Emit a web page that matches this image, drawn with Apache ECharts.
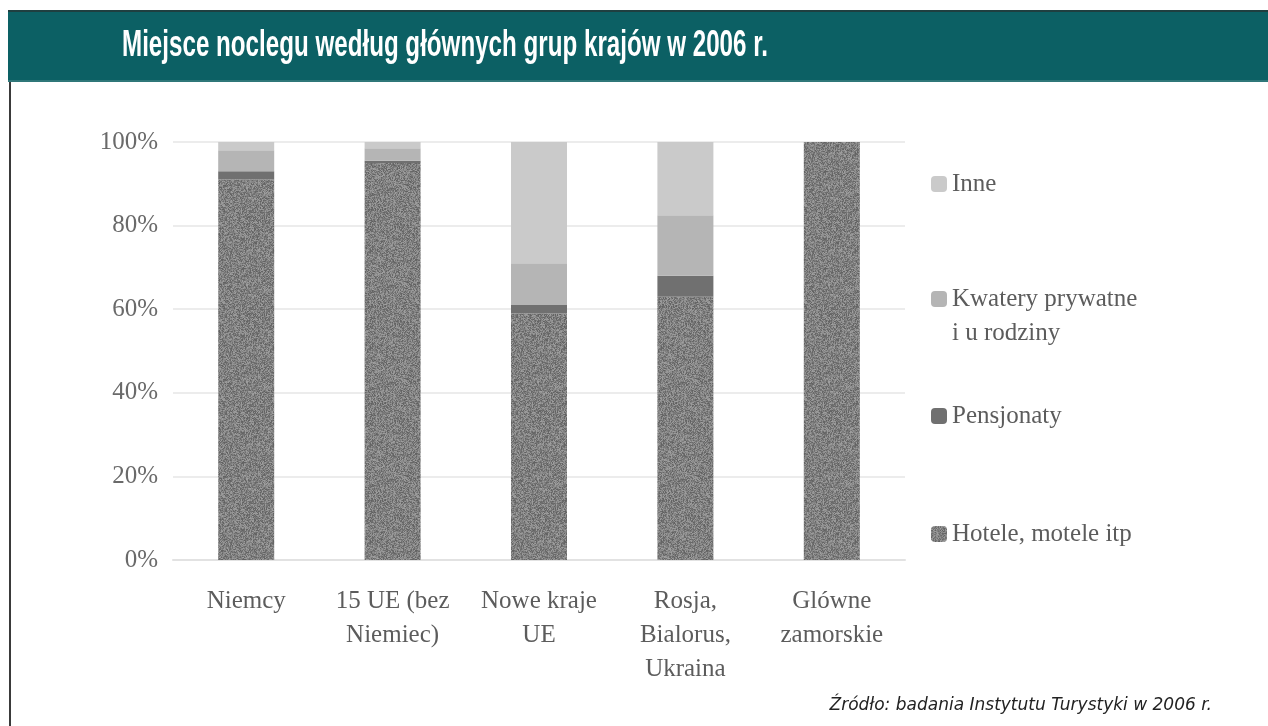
<!DOCTYPE html>
<html>
<head>
<meta charset="utf-8">
<script src="https://cdn.jsdelivr.net/npm/echarts@6/dist/echarts.min.js"></script>
<style>
  html, body { margin: 0; padding: 0; background: #fff; }
  #chart { width: 1268px; height: 726px; }
</style>
</head>
<body>
<div id="chart"></div>
<script>
// Shares of accommodation type by country group, 2006 (percent)
const categories = ['Niemcy', '15 UE (bez\nNiemiec)', 'Nowe kraje\nUE', 'Rosja,\nBialorus,\nUkraina', 'Glówne\nzamorskie'];
const hotele = [91, 95, 59, 63, 100];
const pensjonaty = [2, 0.5, 2, 5, 0];
const kwatery = [5, 3, 10, 14.5, 0];
const inne = [2, 1.5, 29, 17.5, 0];
const yTicks = [0, 20, 40, 60, 80, 100];

const titleText = 'Miejsce noclegu według głównych grup krajów w 2006 r.';
const sourceText = 'Źródło: badania Instytutu Turystyki w 2006 r.';

// speckled grey fill used for the hotel segments (fixed integer hash per pixel)
function grainPattern(base, spread) {
  const size = 97;
  const c = document.createElement('canvas');
  c.width = size; c.height = size;
  const ctx = c.getContext('2d');
  const img = ctx.createImageData(size, size);
  for (let y = 0; y < size; y++) {
    for (let x = 0; x < size; x++) {
      let h = Math.imul(x, 374761393) + Math.imul(y, 668265263);
      h = Math.imul(h ^ (h >>> 13), 1274126177);
      h = (h ^ (h >>> 16)) >>> 0;
      const n = ((h & 255) / 255 - 0.5) * spread;
      const v = Math.max(0, Math.min(255, Math.round(base + n)));
      const i = (y * size + x) * 4;
      img.data[i] = v; img.data[i + 1] = v; img.data[i + 2] = v; img.data[i + 3] = 255;
    }
  }
  ctx.putImageData(img, 0, 0);
  return c;
}

// compress the banner title to its column width
function titleScale(text, font, width) {
  const c = document.createElement('canvas').getContext('2d');
  c.font = font;
  return width / c.measureText(text).width;
}

const serif = '"Liberation Serif", "DejaVu Serif", serif';
const titleFont = 'bold 36px "Liberation Sans Narrow", "Liberation Sans", sans-serif';
const tScale = titleScale(titleText, titleFont, 646);

const chart = echarts.init(document.getElementById('chart'), null, { renderer: 'canvas' });

const hotelColor = { image: grainPattern(128, 64), repeat: 'repeat' };

const legendBase = {
  orient: 'vertical',
  left: 926,
  itemWidth: 16,
  itemHeight: 16,
  itemGap: 0,
  selectedMode: false,
  textStyle: { fontFamily: serif, fontSize: 25, color: '#5c5c5c', lineHeight: 34 }
};

const option = {
  backgroundColor: '#ffffff',
  animation: false,
  graphic: [
    { type: 'rect', shape: { x: 8, y: 10, width: 1260, height: 72 }, style: { fill: '#0c6064' }, z: 0 },
    { type: 'rect', shape: { x: 8, y: 10, width: 1260, height: 2 }, style: { fill: '#1f3f40' }, z: 1 },
    { type: 'rect', shape: { x: 8, y: 80, width: 1260, height: 2 }, style: { fill: '#2f7779' }, z: 1 },
    { type: 'rect', shape: { x: 9, y: 82, width: 2, height: 644 }, style: { fill: '#3a3a3a' }, z: 1 },
    {
      type: 'text', x: 122, y: 46, scaleX: tScale, z: 2,
      style: { text: titleText, font: titleFont, fill: '#ffffff', verticalAlign: 'middle' }
    },
    {
      type: 'text', x: 1212, y: 706, z: 2,
      style: {
        text: sourceText, fill: '#222222', align: 'right', verticalAlign: 'middle',
        font: 'italic 17px "DejaVu Sans", "Liberation Sans", sans-serif'
      }
    }
  ],
  legend: [
    Object.assign({}, legendBase, { top: 162, data: ['Inne'] }),
    Object.assign({}, legendBase, { top: 243, data: ['Kwatery prywatne i u rodziny'],
      formatter: () => ' \nKwatery prywatne\ni u rodziny' }),
    Object.assign({}, legendBase, { top: 394, data: ['Pensjonaty'] }),
    Object.assign({}, legendBase, { top: 512, data: ['Hotele, motele itp'] })
  ],
  grid: { left: 173, right: 363, top: 142, bottom: 166, containLabel: false },
  xAxis: {
    type: 'category',
    data: categories,
    axisTick: { show: false },
    axisLine: { lineStyle: { color: '#e2e2e2', width: 2 } },
    axisLabel: { fontFamily: serif, fontSize: 25, color: '#5c5c5c', lineHeight: 34, margin: 24, interval: 0 }
  },
  yAxis: {
    type: 'value',
    min: yTicks[0],
    max: yTicks[yTicks.length - 1],
    interval: 20,
    axisLine: { show: false },
    axisTick: { show: false },
    splitLine: { lineStyle: { color: '#ececec', width: 2 } },
    axisLabel: { formatter: '{value}%', fontFamily: serif, fontSize: 25, color: '#6a6a6a', margin: 15 }
  },
  series: [
    { name: 'Hotele, motele itp', type: 'bar', stack: 'all', barWidth: 56, data: hotele,
      itemStyle: { color: hotelColor } },
    { name: 'Pensjonaty', type: 'bar', stack: 'all', data: pensjonaty,
      itemStyle: { color: '#707070' } },
    { name: 'Kwatery prywatne i u rodziny', type: 'bar', stack: 'all', data: kwatery,
      itemStyle: { color: '#b5b5b5' } },
    { name: 'Inne', type: 'bar', stack: 'all', data: inne,
      itemStyle: { color: '#cacaca' } }
  ]
};

chart.setOption(option);
</script>
</body>
</html>
